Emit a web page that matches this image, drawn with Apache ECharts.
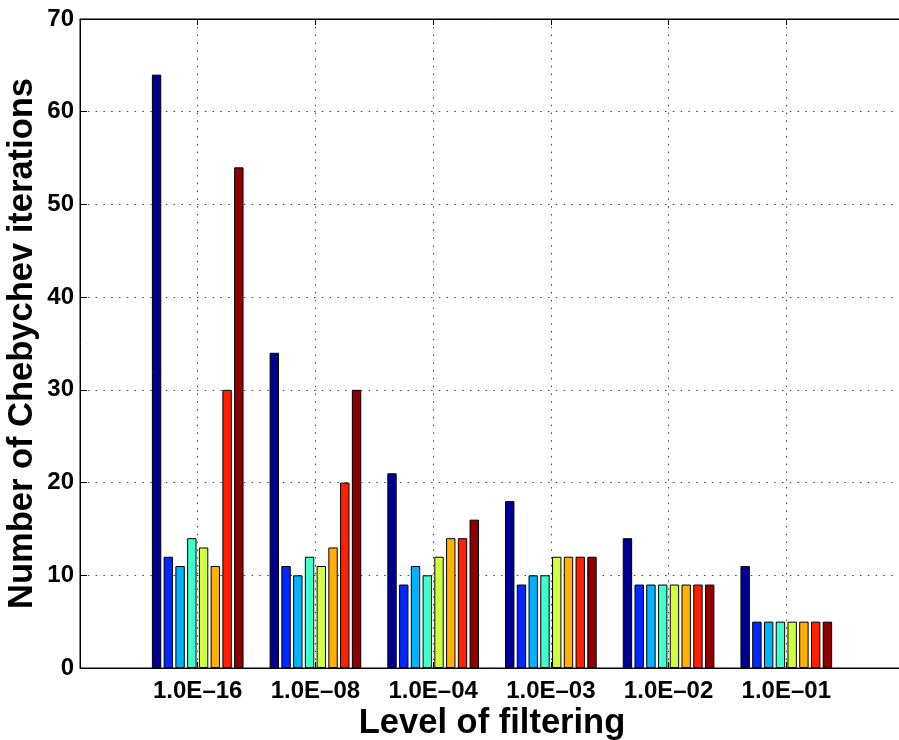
<!DOCTYPE html>
<html>
<head>
<meta charset="utf-8">
<script src="https://cdn.jsdelivr.net/npm/echarts@6/dist/echarts.min.js"></script>
<style>html,body{margin:0;padding:0;background:#fff}#c{width:899px;height:740px}</style>
</head>
<body>
<div id="c"></div>
<script>
// Categories (levels of filtering); empty slots at both ends pad the axis like MATLAB's 0..7 range
const filterLevels = ['1.0E\u201316', '1.0E\u201308', '1.0E\u201304', '1.0E\u201303', '1.0E\u201302', '1.0E\u201301'];
const yTicks = [0, 10, 20, 30, 40, 50, 60, 70];

// One array per bar colour (8 bars per group), values per filtering level
const bar1 = [64, 34, 21, 18, 14, 11];
const bar2 = [12, 11, 9, 9, 9, 5];
const bar3 = [11, 10, 11, 10, 9, 5];
const bar4 = [14, 12, 10, 10, 9, 5];
const bar5 = [13, 11, 12, 12, 9, 5];
const bar6 = [11, 13, 14, 12, 9, 5];
const bar7 = [30, 20, 14, 12, 9, 5];
const bar8 = [54, 30, 16, 12, 9, 5];

const barSets = [bar1, bar2, bar3, bar4, bar5, bar6, bar7, bar8];
const colors = ['#000090', '#0028FF', '#00B2FF', '#40FFCC', '#D0FF40', '#FFB000', '#FF2000', '#8F0000'];

const axisCats = [''].concat(filterLevels, ['']);
const FONT = '"Liberation Sans", Arial, Helvetica, sans-serif';

const chart = echarts.init(document.getElementById('c'), null, {renderer: 'canvas'});
const series = barSets.map((vals, i) => ({
  type: 'bar',
  name: 'bar' + (i + 1),
  data: vals.map((v, j) => [filterLevels[j], v]),
  barWidth: 9.4,
  barGap: '25%',
  itemStyle: {color: colors[i], borderColor: '#000', borderWidth: 1},
  emphasis: {disabled: true},
  animation: false
}));

chart.setOption({
  backgroundColor: '#fff',
  animation: false,
  grid: {left: 80, right: -5, top: 19, bottom: 72, outerBoundsMode: 'none', containLabel: false,
         show: true, borderColor: '#000', borderWidth: 1, backgroundColor: 'transparent'},
  xAxis: [{
    type: 'category',
    data: axisCats,
    boundaryGap: false,
    name: 'Level of filtering',
    nameLocation: 'middle',
    nameGap: 38,
    nameMoveOverlap: false,
    nameTextStyle: {fontFamily: FONT, fontWeight: 'bold', fontSize: 34.5, color: '#000'},
    axisLine: {show: true, lineStyle: {color: '#000', width: 1}},
    axisTick: {show: true, inside: true, length: 6, interval: 0, lineStyle: {color: '#000'}},
    axisLabel: {interval: 0, margin: 11, fontFamily: FONT, fontWeight: 'bold', fontSize: 24, color: '#000'},
    splitLine: {show: true, interval: 0, lineStyle: {color: '#444', type: [1.5, 6.3], width: 1}}
  }, {
    type: 'category',
    data: axisCats,
    boundaryGap: false,
    position: 'top',
    axisLine: {show: true, lineStyle: {color: '#000'}},
    axisTick: {show: true, inside: true, length: 6, interval: 0, lineStyle: {color: '#000'}},
    axisLabel: {show: false},
    splitLine: {show: false}
  }],
  yAxis: {
    type: 'value',
    min: yTicks[0],
    max: yTicks[yTicks.length - 1],
    interval: 10,
    name: 'Number of Chebychev iterations',
    nameLocation: 'middle',
    nameGap: 40,
    nameMoveOverlap: false,
    nameTextStyle: {fontFamily: FONT, fontWeight: 'bold', fontSize: 34.5, color: '#000'},
    axisLine: {show: true, lineStyle: {color: '#000', width: 1}},
    axisTick: {show: true, inside: true, length: 7, lineStyle: {color: '#000'}},
    axisLabel: {margin: 6, fontFamily: FONT, fontWeight: 'bold', fontSize: 24, color: '#000'},
    splitLine: {show: true, lineStyle: {color: '#444', type: [1.5, 6.3], width: 1}}
  },
  series: series
});
</script>
</body>
</html>
